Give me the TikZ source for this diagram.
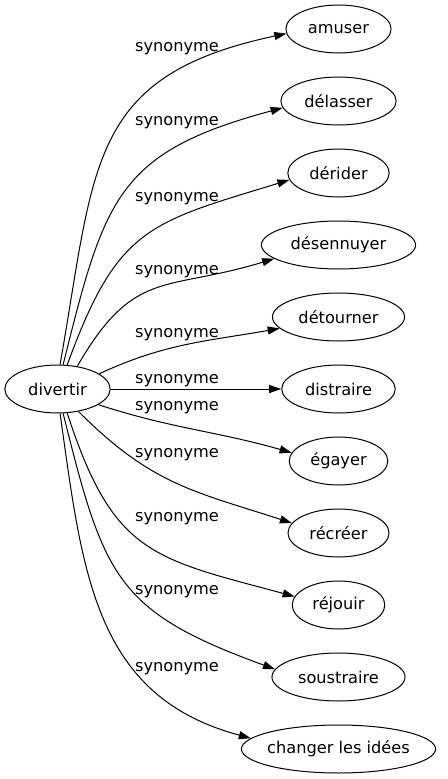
\documentclass[tikz,border=0pt]{standalone}
\usepackage{fontspec}
\setmainfont{DejaVu Sans}
\usetikzlibrary{shapes.geometric,arrows.meta}
\begin{document}
\begin{tikzpicture}[x=0.75pt,y=0.75pt]
        \tikzstyle{every node}=[font=\fontsize{12.15}{14.5}\selectfont];
        \tikzstyle{word}=[draw,shape=ellipse,line width=0.75pt,minimum height=36pt,inner xsep=5pt,inner ysep=0pt];
        \tikzstyle{rel}=[anchor=base,inner sep=0pt];
        \tikzstyle{arr}=[draw,line width=0.75pt,-{Triangle[length=9pt,width=6pt]}];
        \useasboundingbox (-57.5,-390) rectangle (390.5,389);
        %\node[word] (name) at (x,y) {text};
        \node[word,minimum width=79pt] (divertir) at (0,0) {divertir};
        \node[word] (amuser) at (281,360) {amuser};
        \node[word] (delasser) at (281,288) {délasser};
        \node[word] (derider) at (281,216) {dérider};
        \node[word] (desennuyer) at (281,144) {désennuyer};
        \node[word] (detourner) at (281,72) {détourner};
        \node[word] (distraire) at (281,0) {distraire};
        \node[word] (egayer) at (281,-72) {égayer};
        \node[word] (recreer) at (281,-144) {récréer};
        \node[word] (rejouir) at (281,-216) {réjouir};
        \node[word] (soustraire) at (281,-288) {soustraire};
        \node[word,inner xsep=-2pt] (changer) at (281,-360) {changer les idées};
        %labels
        \node[rel] (l1) at (119.5,337.5) {synonyme};
        \node[rel] (l2) at (119.5,263.5) {synonyme};
        \node[rel] (l3) at (119.5,188) {synonyme};
        \node[rel] (l4) at (119.5,114.5) {synonyme};
        \node[rel] (l5) at (119.5,51.5) {synonyme};
        \node[rel] (l6) at (119.5,5.7) {synonyme};
        \node[rel] (l7) at (119.5,-21) {synonyme};
        \node[rel] (l8) at (119.5,-68.5) {synonyme};
        \node[rel] (l9) at (119.5,-132.5) {synonyme};
        \node[rel] (l10) at (119.5,-205.5) {synonyme};
        \node[rel] (l11) at (119.5,-282.5) {synonyme};
        \path
        (divertir.84) edge[arr,out=80,in=192,looseness=1.3] (amuser.185)
        (divertir.77) edge[arr,out=76,in=195,looseness=1.3] (delasser.187)
        (divertir.68) edge[arr,out=70,in=197,looseness=1.3] (derider.188)
        (divertir.49) edge[arr,out=60,in=197,looseness=1.3] (desennuyer.192)
        (divertir.20) edge[arr,out=25,in=190] (detourner.191)
        (divertir) edge[arr] (distraire)
        (divertir.-21) edge[arr,out=-18,in=164] (egayer.170)
        (divertir.-47) edge[arr,out=-45,in=162,looseness=1.1] (recreer.168)
        (divertir.-68) edge[arr,out=-72,in=165,looseness=1.3] (rejouir.169)
        (divertir.-77) edge[arr,out=-76,in=160,looseness=1.3] (soustraire.173)
        (divertir.-84) edge[arr,out=-82,in=165,looseness=1.1] (changer.173);
\end{tikzpicture}
\end{document}
